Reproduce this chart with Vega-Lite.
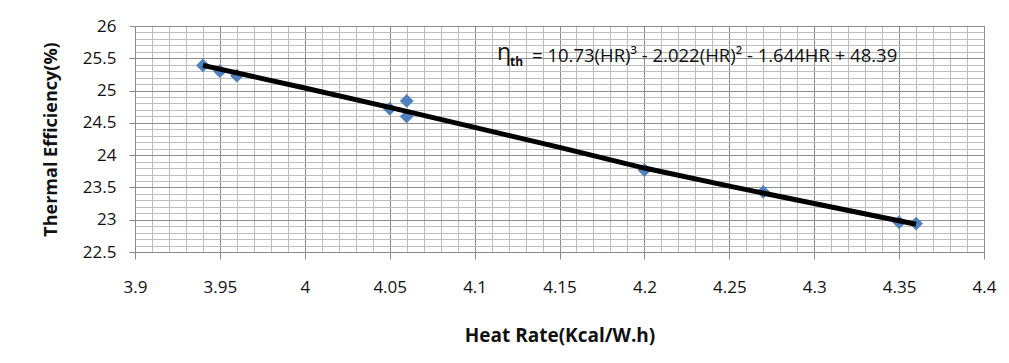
{
  "$schema": "https://vega.github.io/schema/vega-lite/v6.json",
  "width": 849,
  "height": 226,
  "autosize": "none",
  "padding": {"left": 135, "top": 26, "right": 25, "bottom": 111},
  "background": "white",
  "config": {
    "font": "Open Sans",
    "view": {"stroke": "#8c8c8c", "strokeWidth": 1}
  },
  "datasets": {
    "points": [
      {"hr": 3.94, "eff": 25.39},
      {"hr": 3.95, "eff": 25.30},
      {"hr": 3.96, "eff": 25.23},
      {"hr": 4.05, "eff": 24.72},
      {"hr": 4.06, "eff": 24.84},
      {"hr": 4.06, "eff": 24.60},
      {"hr": 4.20, "eff": 23.77},
      {"hr": 4.27, "eff": 23.43},
      {"hr": 4.35, "eff": 22.96},
      {"hr": 4.36, "eff": 22.94}
    ],
    "trend": [
      {"hr": 3.94, "eff": 25.39},
      {"hr": 4.00, "eff": 25.04},
      {"hr": 4.05, "eff": 24.74},
      {"hr": 4.10, "eff": 24.43},
      {"hr": 4.15, "eff": 24.12},
      {"hr": 4.20, "eff": 23.80},
      {"hr": 4.25, "eff": 23.52},
      {"hr": 4.30, "eff": 23.25},
      {"hr": 4.36, "eff": 22.93}
    ],
    "equation": [
      {"hr": 4.1338, "eff": 25.4425, "eta": "η", "sub": "th", "rest": "= 10.73(HR)³ - 2.022(HR)² - 1.644HR + 48.39"}
    ]
  },
  "encoding": {
    "x": {
      "field": "hr",
      "type": "quantitative",
      "scale": {"domain": [3.9, 4.4], "nice": false, "zero": false},
      "axis": {
        "title": "Heat Rate(Kcal/W.h)",
        "values": [3.9,3.91,3.92,3.93,3.94,3.95,3.96,3.97,3.98,3.99,4.0,4.01,4.02,4.03,4.04,4.05,4.06,4.07,4.08,4.09,4.1,4.11,4.12,4.13,4.14,4.15,4.16,4.17,4.18,4.19,4.2,4.21,4.22,4.23,4.24,4.25,4.26,4.27,4.28,4.29,4.3,4.31,4.32,4.33,4.34,4.35,4.36,4.37,4.38,4.39,4.4],
        "labelExpr": "abs(datum.value*20 - round(datum.value*20)) < 1e-6 ? format(datum.value, '~g') : ''",
        "labelOverlap": false,
        "labelFlush": false,
        "labelFont": "Open Sans",
        "labelFontSize": 17,
        "labelColor": "#111111",
        "labelPadding": 20,
        "tickSize": 7,
        "tickColor": "#8a8a8a",
        "tickOpacity": {"condition": {"test": "abs(datum.value*20 - round(datum.value*20)) < 1e-6", "value": 1}, "value": 0},
        "domainColor": "#8a8a8a",
        "grid": true,
        "gridColor": {"condition": {"test": "abs(datum.value*20 - round(datum.value*20)) < 1e-6", "value": "#8c8c8c"}, "value": "#bdbdbd"},
        "gridWidth": 1,
        "gridOpacity": 1,
        "titleFont": "Open Sans",
        "titleFontSize": 19,
        "titleFontWeight": "bold",
        "titleColor": "#111111",
        "titleY": 89,
        "titleBaseline": "alphabetic"
      }
    },
    "y": {
      "field": "eff",
      "type": "quantitative",
      "scale": {"domain": [22.5, 26], "nice": false, "zero": false},
      "axis": {
        "title": "Thermal Efficiency(%)",
        "values": [22.5,22.6,22.7,22.8,22.9,23.0,23.1,23.2,23.3,23.4,23.5,23.6,23.7,23.8,23.9,24.0,24.1,24.2,24.3,24.4,24.5,24.6,24.7,24.8,24.9,25.0,25.1,25.2,25.3,25.4,25.5,25.6,25.7,25.8,25.9,26.0],
        "labelExpr": "abs(datum.value*2 - round(datum.value*2)) < 1e-6 ? format(datum.value, '~g') : ''",
        "labelOverlap": false,
        "labelFlush": false,
        "labelFont": "Open Sans",
        "labelFontSize": 17,
        "labelColor": "#111111",
        "labelPadding": 13,
        "tickSize": 6,
        "tickColor": "#8a8a8a",
        "tickOpacity": {"condition": {"test": "abs(datum.value*2 - round(datum.value*2)) < 1e-6", "value": 1}, "value": 0},
        "domainColor": "#8a8a8a",
        "grid": true,
        "gridColor": {"condition": {"test": "abs(datum.value*2 - round(datum.value*2)) < 1e-6", "value": "#8c8c8c"}, "value": "#bdbdbd"},
        "gridWidth": 1,
        "gridOpacity": 1,
        "titleFont": "Open Sans",
        "titleFontSize": 18,
        "titleFontWeight": "bold",
        "titleColor": "#111111",
        "titleAngle": -90,
        "titleX": -79,
        "titleY": 113,
        "titleAlign": "center",
        "titleBaseline": "alphabetic"
      }
    }
  },
  "layer": [
    {
      "data": {"name": "points"},
      "mark": {"type": "point", "shape": "diamond", "filled": true, "size": 190, "color": "#4f81bd", "opacity": 1}
    },
    {
      "data": {"name": "trend"},
      "mark": {"type": "line", "color": "#000000", "strokeWidth": 5, "strokeCap": "butt"}
    },
    {
      "data": {"name": "equation"},
      "mark": {"type": "text", "align": "right", "baseline": "alphabetic", "fontSize": 23, "font": "Open Sans", "color": "#111111", "dx": -21, "dy": -2},
      "encoding": {"text": {"field": "eta"}}
    },
    {
      "data": {"name": "equation"},
      "mark": {"type": "text", "align": "left", "baseline": "alphabetic", "fontSize": 12, "fontWeight": "bold", "font": "Open Sans", "color": "#111111", "dx": -22, "dy": 4},
      "encoding": {"text": {"field": "sub"}}
    },
    {
      "data": {"name": "equation"},
      "mark": {"type": "text", "align": "left", "baseline": "alphabetic", "fontSize": 18.5, "font": "Open Sans", "color": "#111111"},
      "encoding": {"text": {"field": "rest"}}
    }
  ]
}
